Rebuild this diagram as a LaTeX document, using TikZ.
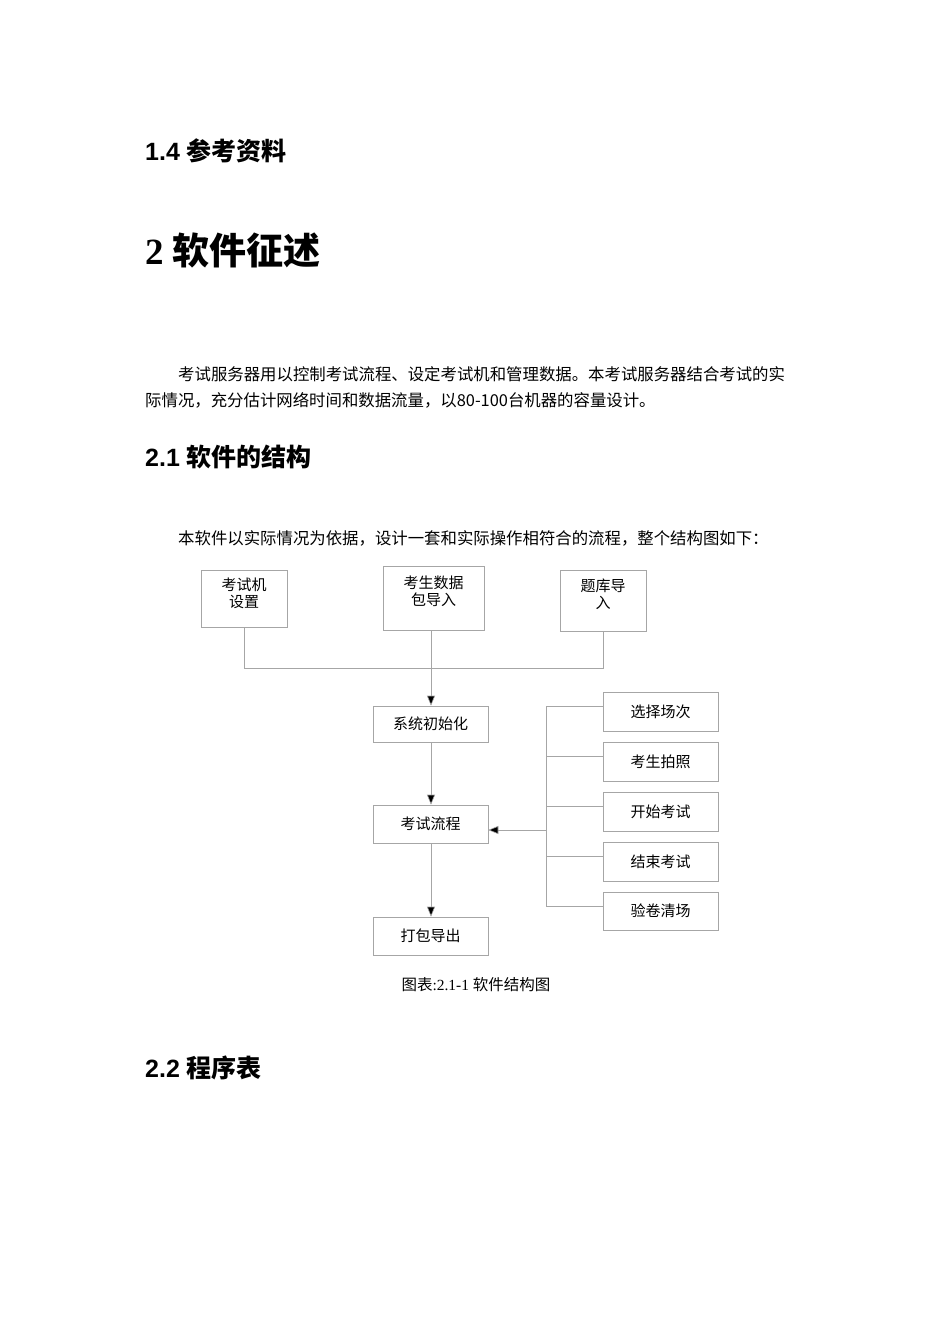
\documentclass[tikz,border=0pt]{standalone}
\usepackage{fontspec}
\setmainfont{Liberation Serif}
\newfontfamily\cjk{Noto Sans CJK SC}
\newfontfamily\hd{Liberation Sans}
\usetikzlibrary{arrows.meta}
\begin{document}
\begin{tikzpicture}[x=1pt,y=-1pt,
  bx/.style={draw=gray!70,line width=0.6pt,rectangle,inner sep=0pt,align=center,font=\cjk\fontsize{15}{17}\selectfont},
  tl/.style={inner sep=0pt,align=center,font=\cjk\fontsize{15}{17}\selectfont},
  ln/.style={draw=gray!70,line width=0.6pt},
  ar/.style={ln,-{Triangle[length=10pt,width=8pt,fill=black]}},
  head/.style={anchor=west,inner sep=0pt,font=\bfseries\fontsize{25}{30}\selectfont},
  txt/.style={anchor=west,inner sep=0pt,font=\cjk\fontsize{16.4}{20}\selectfont}]
\useasboundingbox (0,0) rectangle (950,1344);
\node[head] (h14) at (145,151) {\hd 1.4 \cjk 参考资料};
\node[anchor=west,inner sep=0pt,font=\bfseries\fontsize{37}{42}\selectfont] (h2) at (145,250) {2 \cjk 软件征述};
\node[txt] (p1) at (178,374) {考试服务器用以控制考试流程、设定考试机和管理数据。本考试服务器结合考试的实};
\node[txt] (p2) at (145,400) {际情况，充分估计网络时间和数据流量，以80-100台机器的容量设计。};
\node[head] (h21) at (145,457) {\hd 2.1 \cjk 软件的结构};
\node[txt] (p3) at (178,538) {本软件以实际情况为依据，设计一套和实际操作相符合的流程，整个结构图如下：};
\node[bx,minimum width=86pt,minimum height=57pt] (a) at (244,598.5) {};
\node[tl] at (244,593) {考试机\\设置};
\node[bx,minimum width=101pt,minimum height=64pt] (b) at (433.5,598) {};
\node[tl] at (433.5,591) {考生数据\\包导入};
\node[bx,minimum width=86pt,minimum height=61pt] (c) at (603,600.5) {};
\node[tl] at (603,594) {题库导\\入};
\node[bx,minimum width=115pt,minimum height=36pt] (s) at (430.5,724) {系统初始化};
\node[bx,minimum width=115pt,minimum height=38pt] (k) at (430.5,824) {考试流程};
\node[bx,minimum width=115pt,minimum height=38pt] (d) at (430.5,936) {打包导出};
\node[bx,minimum width=115pt,minimum height=39pt] (r1) at (660.5,711.5) {选择场次};
\node[bx,minimum width=115pt,minimum height=39pt] (r2) at (660.5,761.5) {考生拍照};
\node[bx,minimum width=115pt,minimum height=39pt] (r3) at (660.5,811.5) {开始考试};
\node[bx,minimum width=115pt,minimum height=39pt] (r4) at (660.5,861.5) {结束考试};
\node[bx,minimum width=115pt,minimum height=38pt] (r5) at (660.5,911) {验卷清场};
\coordinate (j) at (431,668);
\draw[ln] (a.south) |- (j);
\draw[ln] (c.south) |- (j);
\draw[ar] (b.south -| j) -- (s.north -| j);
\draw[ar] (s.south -| j) -- (k.north -| j);
\draw[ar] (k.south -| j) -- (d.north -| j);
\coordinate (v1) at (546,706);
\coordinate (v2) at (546,906);
\coordinate (vm) at (546,830);
\draw[ln] (v1) -- (v2);
\draw[ln] (v1) -- (r1.west |- v1);
\draw[ln] (546,756) -- (r2.west |- 0,756);
\draw[ln] (546,806) -- (r3.west |- 0,806);
\draw[ln] (546,856) -- (r4.west |- 0,856);
\draw[ln] (v2) -- (r5.west |- v2);
\draw[ar] (vm) -- (k.east |- vm);
\node[inner sep=0pt,font=\fontsize{15.5}{18}\selectfont] (cap) at (476,985) {\cjk 图表\rmfamily:2.1-1 \cjk 软件结构图};
\node[head] (h22) at (145,1068) {\hd 2.2 \cjk 程序表};
\end{tikzpicture}
\end{document}
